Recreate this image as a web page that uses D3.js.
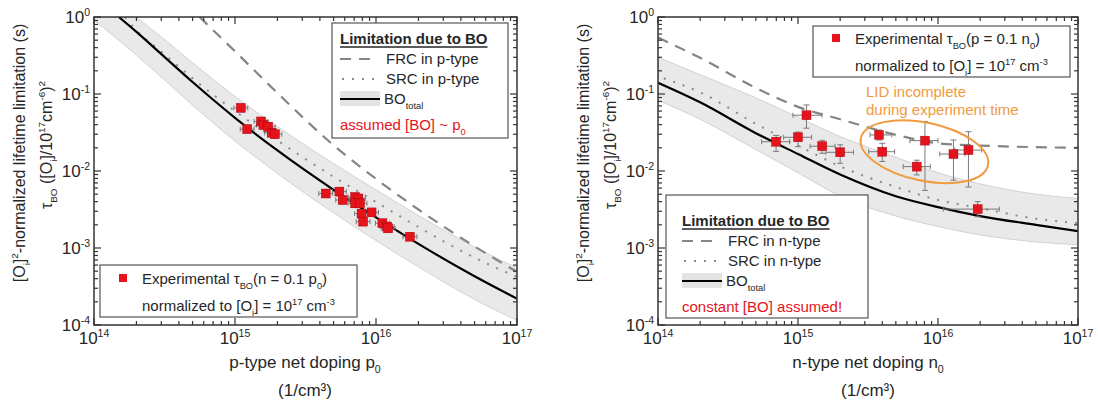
<!DOCTYPE html>
<html>
<head>
<meta charset="utf-8">
<script src="https://cdn.jsdelivr.net/npm/d3@7"></script>
<style>
  body { margin: 0; background: #fff; }
  svg { font-family: Arial, "Liberation Sans", sans-serif; }
</style>
</head>
<body>
<svg width="1098" height="400"></svg>
<script>
// ---- p-type panel data ----
var pDoping = [1.1e15, 1.22e15, 1.53e15, 1.59e15, 1.72e15, 1.82e15, 1.92e15,
  4.4e15, 5.5e15, 5.8e15, 7.1e15, 7.5e15, 7.1e15, 7.7e15, 7.9e15, 9.3e15, 8.1e15,
  1.11e16, 1.2e16, 1.22e16, 1.74e16];
var pTau = [0.066, 0.035, 0.044, 0.0396, 0.0376, 0.0314, 0.030,
  5.1e-3, 5.4e-3, 4.2e-3, 4.6e-3, 4.4e-3, 3.8e-3, 3.8e-3, 2.8e-3, 2.9e-3, 2.2e-3,
  2.1e-3, 1.9e-3, 1.8e-3, 1.4e-3];

var pTotalX = [1.5e14, 2e14, 3e14, 5e14, 1e15, 2e15, 5e15, 1e16, 2e16, 5e16, 1e17];
var pTotalY = [1.0, 0.64, 0.33, 0.143, 0.049, 0.0185, 5.7e-3, 2.5e-3, 1.13e-3, 4.3e-4, 2.2e-4];
var pSrcX = [1.66e14, 2e14, 3e14, 5e14, 1e15, 2e15, 5e15, 1e16, 2e16, 5e16, 1e17];
var pSrcY = [1.0, 0.67, 0.355, 0.160, 0.060, 0.0249, 8.4e-3, 3.96e-3, 1.87e-3, 7.5e-4, 4.2e-4];
var pFrcX = [5.6e14, 1e15, 2e15, 5e15, 1e16, 2e16, 5e16, 1e17];
var pFrcY = [1.0, 0.358, 0.103, 0.0216, 7.9e-3, 3.16e-3, 1.05e-3, 4.9e-4];
var pBandX = [1e14, 2e14, 3e14, 5e14, 1e15, 2e15, 5e15, 1e16, 2e16, 5e16, 1e17];
var pBandHi = [3.0, 1.0, 0.55, 0.254, 0.093, 0.0378, 0.0125, 5.7e-3, 2.65e-3, 1.03e-3, 5.5e-4];
var pBandLo = [0.91, 0.32, 0.166, 0.0716, 0.0245, 9.3e-3, 2.86e-3, 1.25e-3, 5.7e-4, 2.15e-4, 1.15e-4];

// ---- n-type panel data ----
var nDoping = [6.97e14, 1.0e15, 1.15e15, 1.49e15, 2.0e15, 3.79e15, 4.0e15, 7.05e15, 8.07e15, 1.29e16, 1.65e16, 1.92e16];
var nTau = [0.024, 0.0274, 0.053, 0.021, 0.0175, 0.0294, 0.0178, 0.0114, 0.0248, 0.0166, 0.0187, 3.2e-3];
var nDopLo = [5.5e14, 7.9e14, 9.2e14, 1.22e15, 1.58e15, 3.27e15, 3.2e15, 5.65e15, 6.3e15, 1.03e16, 1.32e16, 1.09e16];
var nDopHi = [8.7e14, 1.25e15, 1.48e15, 1.84e15, 2.49e15, 4.67e15, 4.9e15, 8.8e15, 1.0e16, 1.56e16, 2.05e16, 2.74e16];
var nTauLo = [0.018, 0.0207, 0.036, 0.017, 0.0126, 0.0253, 0.0133, 0.0089, 0.0056, 0.0076, 0.0062, 2.54e-3];
var nTauHi = [0.029, 0.032, 0.072, 0.025, 0.0219, 0.034, 0.0229, 0.0138, 0.044, 0.0253, 0.0324, 4.0e-3];

var nTotalX = [1e14, 2e14, 5e14, 1e15, 2e15, 5e15, 1e16, 2e16, 5e16, 1e17];
var nTotalY = [0.14, 0.078, 0.031, 0.0166, 9.0e-3, 4.7e-3, 3.4e-3, 2.6e-3, 2.0e-3, 1.66e-3];
var nSrcX = [1.1e14, 2e14, 5e14, 1e15, 2e15, 5e15, 1e16, 2e16, 5e16, 1e17];
var nSrcY = [0.16, 0.105, 0.041, 0.0214, 0.0115, 6.2e-3, 4.2e-3, 3.3e-3, 2.4e-3, 2.1e-3];
var nFrcX = [1e14, 2e14, 5e14, 1e15, 2e15, 5e15, 1e16, 2e16, 5e16, 1e17];
var nFrcY = [0.54, 0.295, 0.12, 0.068, 0.047, 0.0295, 0.0229, 0.0214, 0.0204, 0.020];
var nBandX = [1e14, 2e14, 5e14, 1e15, 2e15, 5e15, 1e16, 2e16, 5e16, 1e17];
var nBandHi = [0.30, 0.178, 0.089, 0.050, 0.028, 0.0151, 9.5e-3, 6.8e-3, 5.0e-3, 4.4e-3];
var nBandLo = [0.083, 0.047, 0.019, 9.5e-3, 4.7e-3, 2.6e-3, 1.9e-3, 1.48e-3, 1.2e-3, 1.1e-3];

// "LID incomplete" ellipse centre
var lidX = 8e15, lidY = 0.0178;

var xTicks = [1e14, 1e15, 1e16, 1e17];
var xTickExp = ["14", "15", "16", "17"];
var yTicks = [1, 1e-1, 1e-2, 1e-3, 1e-4];
var yTickExp = ["0", "-1", "-2", "-3", "-4"];

var RED = "#e5131b", ORANGE = "#f29a3e", TXT = "#262626";

var svg = d3.select("svg");

// text with sub / superscripts, parts = [[str, ""|"sub"|"sup"], ...]
function rich(text, parts, size) {
  var shift = 0;
  parts.forEach(function (p) {
    var s = p[1] === "sup" ? -0.42 * size : p[1] === "sub" ? 0.3 * size : 0;
    text.append("tspan")
      .attr("dy", s - shift)
      .attr("font-size", p[1] ? size * 0.62 : size)
      .text(p[0]);
    shift = s;
  });
  return text;
}

function panel(id, x0, x1) {
  var x = d3.scaleLog().domain([1e14, 1e17]).range([x0, x1]);
  var y = d3.scaleLog().domain([1e-4, 1]).range([325, 17]);
  var g = svg.append("g");

  svg.append("clipPath").attr("id", id).append("rect")
    .attr("x", x0).attr("y", 17).attr("width", x1 - x0).attr("height", 308);

  var plot = g.append("g").attr("clip-path", "url(#" + id + ")");

  // frame + inward ticks on all four sides
  var axes = g.append("g").attr("stroke", "#333").attr("stroke-width", 1.2);
  x.ticks().forEach(function (t) {
    var major = Math.abs(Math.log10(t) - Math.round(Math.log10(t))) < 1e-6;
    var len = major ? 7 : 4, px = x(t);
    axes.append("line").attr("x1", px).attr("x2", px).attr("y1", 325).attr("y2", 325 - len);
    axes.append("line").attr("x1", px).attr("x2", px).attr("y1", 17).attr("y2", 17 + len);
  });
  y.ticks().forEach(function (t) {
    var major = Math.abs(Math.log10(t) - Math.round(Math.log10(t))) < 1e-6;
    var len = major ? 7 : 4, py = y(t);
    axes.append("line").attr("x1", x0).attr("x2", x0 + len).attr("y1", py).attr("y2", py);
    axes.append("line").attr("x1", x1).attr("x2", x1 - len).attr("y1", py).attr("y2", py);
  });
  g.append("rect").attr("x", x0).attr("y", 17).attr("width", x1 - x0).attr("height", 308)
    .attr("fill", "none").attr("stroke", "#333").attr("stroke-width", 1.5);

  xTicks.forEach(function (t, i) {
    rich(g.append("text").attr("x", x(t)).attr("y", 344).attr("text-anchor", "middle").attr("fill", TXT),
      [["10", ""], [xTickExp[i], "sup"]], 17);
  });
  yTicks.forEach(function (t, i) {
    rich(g.append("text").attr("x", x0 - 4).attr("y", y(t) + 6).attr("text-anchor", "end").attr("fill", TXT),
      [["10", ""], [yTickExp[i], "sup"]], 17);
  });

  // y titles
  var cx = x0 - 69;
  rich(g.append("text").attr("text-anchor", "middle").attr("fill", TXT)
    .attr("transform", "translate(" + cx + ",153) rotate(-90)"),
    [["[O", ""], ["i", "sub"], ["]", ""], ["2", "sup"], ["-normalized lifetime limitation (s)", ""]], 16);
  rich(g.append("text").attr("text-anchor", "middle").attr("fill", TXT)
    .attr("transform", "translate(" + (cx + 27) + ",145) rotate(-90)"),
    [["τ", ""], ["BO", "sub"], [" ([O", ""], ["i", "sub"], ["]/10", ""], ["17", "sup"], ["cm", ""], ["-6", "sup"], [")", ""], ["2", "sup"]], 16);

  return { x: x, y: y, g: g, plot: plot };
}

function curves(P, band, total, src, frc) {
  var area = d3.area().curve(d3.curveMonotoneX)
    .x(function (d) { return P.x(d[0]); })
    .y0(function (d) { return P.y(d[1]); })
    .y1(function (d) { return P.y(d[2]); });
  var line = d3.line().curve(d3.curveMonotoneX)
    .x(function (d) { return P.x(d[0]); })
    .y(function (d) { return P.y(d[1]); });

  P.plot.append("path").datum(d3.zip(band[0], band[1], band[2]))
    .attr("d", area).attr("fill", "#e9e9e9").attr("stroke", "#d2d2d2").attr("stroke-width", 1);
  P.plot.append("path").datum(d3.zip(frc[0], frc[1]))
    .attr("d", line).attr("fill", "none").attr("stroke", "#858585").attr("stroke-width", 2.2)
    .attr("stroke-dasharray", "11,8");
  P.plot.append("path").datum(d3.zip(src[0], src[1]))
    .attr("d", line).attr("fill", "none").attr("stroke", "#8a8a8a").attr("stroke-width", 2)
    .attr("stroke-dasharray", "2,8");
  P.plot.append("path").datum(d3.zip(total[0], total[1]))
    .attr("d", line).attr("fill", "none").attr("stroke", "#000").attr("stroke-width", 2.2);
}

function errorBars(P, xs, ys, xlo, xhi, ylo, yhi) {
  var eb = P.plot.append("g").attr("stroke", "#7a7a7a").attr("stroke-width", 1);
  xs.forEach(function (v, i) {
    var px = P.x(v), py = P.y(ys[i]);
    var a = P.x(xlo[i]), b = P.x(xhi[i]), c = P.y(ylo[i]), d = P.y(yhi[i]);
    eb.append("line").attr("x1", a).attr("x2", b).attr("y1", py).attr("y2", py);
    eb.append("line").attr("x1", px).attr("x2", px).attr("y1", c).attr("y2", d);
    eb.append("line").attr("x1", a).attr("x2", a).attr("y1", py - 2.5).attr("y2", py + 2.5);
    eb.append("line").attr("x1", b).attr("x2", b).attr("y1", py - 2.5).attr("y2", py + 2.5);
    eb.append("line").attr("x1", px - 3).attr("x2", px + 3).attr("y1", c).attr("y2", c);
    eb.append("line").attr("x1", px - 3).attr("x2", px + 3).attr("y1", d).attr("y2", d);
  });
}

function markers(P, xs, ys, size) {
  P.plot.append("g").selectAll("rect").data(d3.zip(xs, ys)).enter().append("rect")
    .attr("x", function (d) { return P.x(d[0]) - size / 2; })
    .attr("y", function (d) { return P.y(d[1]) - size / 2; })
    .attr("width", size).attr("height", size)
    .attr("fill", RED).attr("stroke", "#a0000a").attr("stroke-width", 0.4);
}

function legendBox(g, x, y, w, h) {
  g.append("rect").attr("x", x).attr("y", y).attr("width", w).attr("height", h)
    .attr("fill", "#fff").attr("stroke", "#555").attr("stroke-width", 1.2);
}

function limitLegend(g, x, y, typ, noteParts) {
  var t = g.append("text").attr("x", x).attr("y", y).attr("font-size", 15)
    .attr("font-weight", "bold").attr("fill", TXT).text("Limitation due to BO");
  var w = t.node().getComputedTextLength();
  g.append("line").attr("x1", x).attr("x2", x + w).attr("y1", y + 3).attr("y2", y + 3)
    .attr("stroke", TXT).attr("stroke-width", 1.4);
  var tx = x + 46;
  g.append("line").attr("x1", x).attr("x2", x + 38).attr("y1", y + 15).attr("y2", y + 15)
    .attr("stroke", "#858585").attr("stroke-width", 2.2).attr("stroke-dasharray", "11,8");
  g.append("text").attr("x", tx).attr("y", y + 20).attr("font-size", 15).attr("fill", TXT)
    .text("FRC in " + typ + "-type");
  g.append("line").attr("x1", x + 2).attr("x2", x + 38).attr("y1", y + 35).attr("y2", y + 35)
    .attr("stroke", "#8a8a8a").attr("stroke-width", 2).attr("stroke-dasharray", "2,8");
  g.append("text").attr("x", tx).attr("y", y + 40).attr("font-size", 15).attr("fill", TXT)
    .text("SRC in " + typ + "-type");
  g.append("rect").attr("x", x).attr("y", y + 47).attr("width", 40).attr("height", 15).attr("fill", "#e3e3e3");
  g.append("line").attr("x1", x).attr("x2", x + 40).attr("y1", y + 55).attr("y2", y + 55)
    .attr("stroke", "#000").attr("stroke-width", 2.2);
  rich(g.append("text").attr("x", tx - 2).attr("y", y + 60).attr("fill", TXT), [["BO", ""], ["total", "sub"]], 15);
  rich(g.append("text").attr("x", x).attr("y", y + 86).attr("fill", RED), noteParts, 15);
}

function expLegend(g, x, y, cond) {
  g.append("rect").attr("x", x - 23).attr("y", y - 10).attr("width", 8).attr("height", 8).attr("fill", RED);
  rich(g.append("text").attr("x", x).attr("y", y).attr("fill", TXT),
    [["Experimental τ", ""], ["BO", "sub"], [cond[0], ""], [cond[1], "sub"], [")", ""]], 15);
  rich(g.append("text").attr("x", x).attr("y", y + 27).attr("fill", TXT),
    [["normalized to [O", ""], ["i", "sub"], ["] = 10", ""], ["17", "sup"], [" cm", ""], ["-3", "sup"]], 15);
}

// ---------- left panel (p-type) ----------
var L = panel("clipL", 94, 517);
curves(L, [pBandX, pBandLo, pBandHi], [pTotalX, pTotalY], [pSrcX, pSrcY], [pFrcX, pFrcY]);
errorBars(L, pDoping, pTau,
  pDoping.map(function (v) { return v / 1.12; }), pDoping.map(function (v) { return v * 1.12; }),
  pTau.map(function (v) { return v / 1.12; }), pTau.map(function (v) { return v * 1.12; }));
markers(L, pDoping, pTau, 9);

legendBox(L.g, 332, 23, 176, 115);
limitLegend(L.g, 340, 44, "p", [["assumed [BO] ~ p", ""], ["0", "sub"]]);
legendBox(L.g, 100, 265, 257, 52);
expLegend(L.g, 142, 284, ["(n = 0.1 p", "0"]);

rich(L.g.append("text").attr("x", 305).attr("y", 368).attr("text-anchor", "middle").attr("fill", TXT),
  [["p-type net doping p", ""], ["0", "sub"]], 17);
L.g.append("text").attr("x", 305).attr("y", 396).attr("text-anchor", "middle").attr("fill", TXT)
  .attr("font-size", 17).text("(1/cm³)");

// ---------- right panel (n-type) ----------
var R = panel("clipR", 658, 1078);
curves(R, [nBandX, nBandLo, nBandHi], [nTotalX, nTotalY], [nSrcX, nSrcY], [nFrcX, nFrcY]);
errorBars(R, nDoping, nTau, nDopLo, nDopHi, nTauLo, nTauHi);
markers(R, nDoping, nTau, 9);

R.plot.append("ellipse")
  .attr("transform", "translate(" + R.x(lidX) + "," + R.y(lidY) + ") rotate(12)")
  .attr("rx", 65).attr("ry", 29)
  .attr("fill", "none").attr("stroke", ORANGE).attr("stroke-width", 2);
R.g.append("text").attr("x", 866).attr("y", 97).attr("font-size", 15).attr("fill", ORANGE).text("LID incomplete");
R.g.append("text").attr("x", 866).attr("y", 115).attr("font-size", 15).attr("fill", ORANGE).text("during experiment time");

legendBox(R.g, 813, 26, 257, 51);
expLegend(R.g, 855, 44, ["(p = 0.1 n", "0"]);
legendBox(R.g, 666, 195, 202, 123);
limitLegend(R.g, 682, 226, "n", [["constant [BO] assumed!", ""]]);

rich(R.g.append("text").attr("x", 868).attr("y", 368).attr("text-anchor", "middle").attr("fill", TXT),
  [["n-type net doping n", ""], ["0", "sub"]], 17);
R.g.append("text").attr("x", 868).attr("y", 396).attr("text-anchor", "middle").attr("fill", TXT)
  .attr("font-size", 17).text("(1/cm³)");
</script>
</body>
</html>
